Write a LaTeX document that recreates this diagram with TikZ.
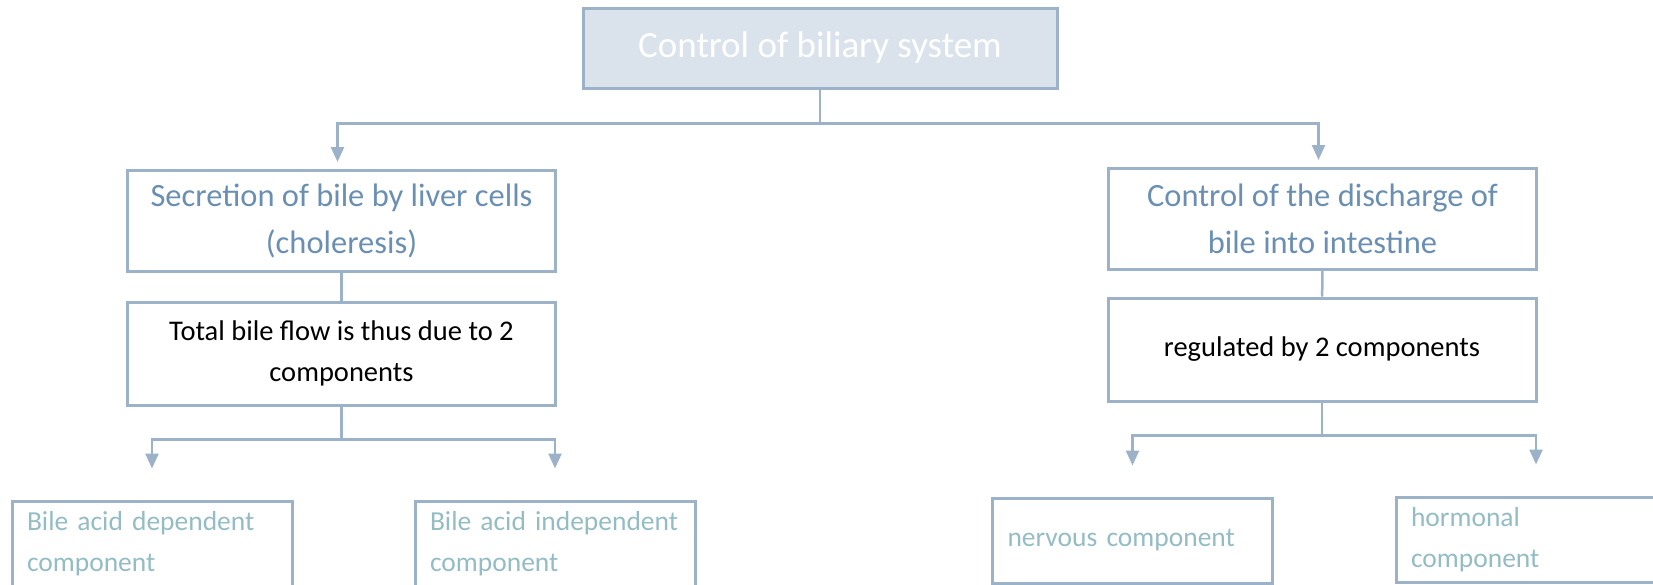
\documentclass[tikz,border=0pt]{standalone}
\usepackage{fontspec}
\setmainfont{Carlito}
\usetikzlibrary{arrows.meta}
\definecolor{framegray}{HTML}{9CB2C9}
\definecolor{headfill}{HTML}{DAE3EC}
\definecolor{headtext}{HTML}{6A8FB3}
\definecolor{leaftext}{HTML}{93BCC4}

\begin{document}
\begin{tikzpicture}[x=1pt,y=-1pt,
	every node/.style={draw=framegray,line width=3pt,rectangle},
	root/.style={fill=headfill,text=white,minimum width=474pt,minimum height=80pt,font=\fontsize{37}{44}\selectfont},
	branch/.style={text=headtext,minimum width=428pt,minimum height=101pt,align=center,font=\fontsize{32.5}{47}\selectfont},
	note/.style={text=black,minimum width=428pt,minimum height=103pt,align=center,font=\fontsize{28.5}{41}\selectfont},
	leaf/.style={text=leaftext,minimum width=280pt,minimum height=85pt,text width=262pt,inner xsep=9pt,align=left,font=\fontsize{27.5}{41}\selectfont},
	link/.style={draw=framegray,line width=2.5pt},
	arrowlink/.style={link,-{Triangle[width=13pt,length=15pt]}}]

    \useasboundingbox (0,0) rectangle (1653,584);

    \node[root] (biliary) at (820,48) {Control of biliary system};

    % left branch
    \node[branch] (choleresis) at (341.5,221) {Secretion of bile by liver cells\\(choleresis)};
    \node[note] (totalflow) at (341.5,353.5) {Total bile flow is thus due to 2\\components};
    \node[leaf] (dependent) at (152,543.5) {\hspace{6pt}Bile acid dependent\\\hspace{6pt}component};
    \node[leaf] (independent) at (555,543.5) {\hspace{6pt}Bile acid independent\\\hspace{6pt}component};

    % right branch
    \node[branch] (discharge) at (1322.5,219) {Control of the discharge of\\bile into intestine};
    \node[note] (regulated) at (1322,349.5) {regulated by 2 components};
    \node[leaf] (nervous) at (1132.5,540.5) {\hspace{6pt}nervous component};
    \node[leaf] (hormonal) at (1536,539.5) {\hspace{6pt}hormonal\\\hspace{6pt}component};

    \draw[link] (biliary.south) -- ++(0,34) coordinate (rootfork);
    \draw[arrowlink,shorten >=7pt] (rootfork) -| ([xshift=-4pt]choleresis.north);
    \draw[arrowlink,shorten >=7pt] (rootfork) -| ([xshift=-4pt]discharge.north);

    \draw[link] (choleresis) -- (totalflow);
    \draw[link] (discharge) -- (regulated);

    \draw[link] (totalflow.south) -- ++(0,33) coordinate (flowfork);
    \draw[arrowlink,shorten >=31pt] (flowfork) -| (dependent.north);
    \draw[arrowlink,shorten >=31pt] (flowfork) -| (independent.north);

    \draw[link] (regulated.south) -- ++(0,33) coordinate (regfork);
    \draw[arrowlink,shorten >=31pt] (regfork) -| (nervous.north);
    \draw[arrowlink,shorten >=31pt] (regfork) -| (hormonal.north);

\end{tikzpicture}
\end{document}
